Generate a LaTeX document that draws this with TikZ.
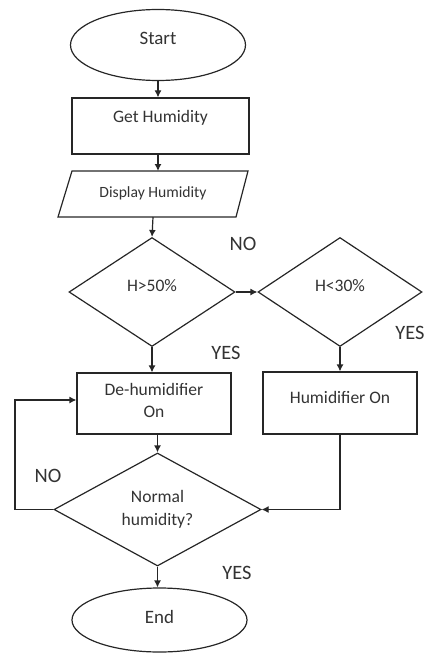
\documentclass[tikz,border=0pt]{standalone}
\usepackage{fontspec}
\setmainfont{Carlito}
\usetikzlibrary{shapes.geometric,arrows.meta}
\definecolor{ln}{HTML}{262626}
\definecolor{tx}{HTML}{333333}
\begin{document}
\begin{tikzpicture}[x=1bp,y=-1bp,
  arr/.style={draw=ln,line width=1.2bp,-{Latex[length=7bp,width=7bp]}},
  term/.style={ellipse,draw=ln,line width=1.2bp,inner sep=0pt},
  proc/.style={rectangle,draw=ln,line width=1.2bp,inner sep=0pt},
  dec/.style={diamond,draw=ln,line width=1.2bp,inner sep=0pt},
  txt/.style={font=\fontsize{17.6}{23}\selectfont,text=tx,align=center},
  ttxt/.style={font=\fontsize{19}{23}\selectfont,text=tx},
  yn/.style={font=\fontsize{20.5}{24}\selectfont,text=tx}]
\useasboundingbox (0,0) rectangle (428,655);

% nodes
\node[term,minimum width=175bp,minimum height=71bp,
      label={[ttxt,yshift=7bp]center:Start}] (start) at (158,45) {};
\node[proc,minimum width=177bp,minimum height=56bp,
      label={[txt,yshift=8bp]center:Get Humidity}] (gh) at (160.5,126) {};
\draw[draw=ln,line width=1.2bp] (72,171) -- (248,171) -- (236,217) -- (58,217) -- cycle;
\node[font=\fontsize{15.7}{19}\selectfont,text=tx] (dh) at (153,193) {Display Humidity};
\coordinate (dhtop) at (158,171);
\coordinate (dhbot) at (153,217);

\node[dec,minimum width=166bp,minimum height=109bp,
      label={[txt,yshift=6bp]center:H>50\%}] (d1) at (152,292) {};
\node[dec,minimum width=164bp,minimum height=109bp,
      label={[txt,yshift=6bp]center:H<30\%}] (d2) at (340,292) {};

\node[proc,minimum width=154bp,minimum height=61bp,
      label={[txt,yshift=3bp]center:De-humidifier\\On}] (deh) at (154,403.5) {};
\node[proc,minimum width=154bp,minimum height=62bp,
      label={[txt,yshift=6bp]center:Humidifier On}] (hum) at (340,403) {};

\node[dec,minimum width=207bp,minimum height=113bp,
      label={[txt]center:Normal\\humidity?}] (nd) at (157.5,509.5) {};

\node[term,minimum width=175bp,minimum height=64bp,
      label={[ttxt,yshift=3bp]center:End}] (en) at (159.5,620) {};

% branch labels
\node[yn] (no1) at (243,244) {NO};
\node[yn] (yes1) at (226,353) {YES};
\node[yn] (yes2) at (410,333) {YES};
\node[yn] (no2) at (48,476) {NO};
\node[yn] (yes3) at (237,573) {YES};

% connectors
\draw[arr] (start.south) -- (start.south |- gh.north);
\draw[arr] (dhtop |- gh.south) -- (dhtop);
\draw[arr] (dhbot) -- (d1.north);
\draw[arr] (d1.east) -- (d2.west);
\draw[arr] (d1.south) -- (d1.south |- deh.north);
\draw[arr] (d2.south) -- (d2.south |- hum.north);
\draw[arr] (nd.north |- deh.south) -- (nd.north);
\coordinate (lp) at (15,400);
\draw[arr] (nd.west) -| (lp) -- (lp -| deh.west);
\draw[arr] (hum.south) |- (nd.east);
\draw[arr] (nd.south) -- (nd.south |- en.north);
\end{tikzpicture}
\end{document}
